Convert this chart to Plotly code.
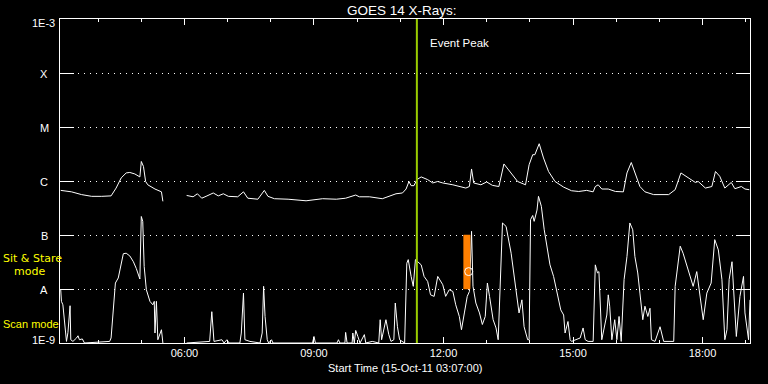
import numpy as np
import pandas as pd
import plotly.graph_objects as go

# ---------------- data ----------------
START = "2011-10-15 03:07:00"

# Long-wavelength channel (1-8 A), minutes after start, flux W/m^2 (None = data gap)
long_min = [1, 16, 30, 44, 58, 71, 78, 85, 92, 97, 104, 111, 113, 116, 119, 122, 132, 141, 143,
            160, 176, 185, 191, 197, 203, 213, 220, 227, 234, 247, 255, 261, 275, 284, 289, 298,
            317, 330, 342, 365, 384, 397, 411, 416, 430, 448, 467, 476, 481, 485, 488, 492, 496,
            502, 511, 518, 525, 532, 546, 564, 569, 572, 575, 585, 593, 601, 610, 617, 627, 636,
            647, 652, 657, 660, 666, 672, 679, 688, 700, 711, 721, 732, 741, 744, 748, 753, 762,
            772, 783, 788, 794, 799, 806, 813, 825, 846, 855, 863, 873, 883, 887, 897, 906, 911,
            917, 924, 933, 938, 947, 952, 958]
long_flux = [6.7e-7, 6.3e-7, 5.6e-7, 5.2e-7, 5.2e-7, 5.3e-7, 7.4e-7, 1.14e-6, 1.41e-6, 1.44e-6,
             1.35e-6, 1.19e-6, 2.3e-6, 1.86e-6, 9.8e-7, 8.5e-7, 7.1e-7, 6.3e-7, 4.2e-7,
             None, 5.4e-7, 5.1e-7, 5.8e-7, 4.8e-7, 5.2e-7, 6.0e-7, 5.3e-7, 5.8e-7, 5.2e-7, 5.1e-7,
             6.3e-7, 4.8e-7, 4.6e-7, 6.7e-7, 5.2e-7, 4.7e-7, 4.6e-7, 4.5e-7, 4.3e-7, 4.7e-7,
             4.6e-7, 4.8e-7, 5.5e-7, 5.1e-7, 5.1e-7, 4.7e-7, 5.8e-7, 6.0e-7, 7.1e-7, 9.8e-7,
             8.2e-7, 8.2e-7, 1.06e-6, 1.19e-6, 1.06e-6, 9.2e-7, 9.8e-7, 9.2e-7, 8.5e-7, 7.4e-7,
             7.9e-7, 1.67e-6, 9.2e-7, 8.5e-7, 9.6e-7, 8.3e-7, 7.9e-7, 2.07e-6, 1.41e-6, 9.8e-7,
             8.5e-7, 2.0e-6, 3.07e-6, 3.07e-6, 4.9e-6, 2.67e-6, 1.5e-6, 9.8e-7, 7.7e-7, 6.6e-7,
             6.4e-7, 6.7e-7, 6.3e-7, 7.9e-7, 8.5e-7, 7.1e-7, 7.1e-7, 6.4e-7, 6.3e-7, 1.41e-6,
             2.2e-6, 1.41e-6, 7.9e-7, 6.3e-7, 5.6e-7, 5.6e-7, 6.9e-7, 1.41e-6, 1.14e-6, 9.4e-7,
             9.8e-7, 7.4e-7, 7.9e-7, 1.5e-6, 1.22e-6, 7.4e-7, 9.4e-7, 7.2e-7, 7.9e-7, 7.1e-7,
             6.9e-7]

# Short-wavelength channel (0.5-4 A)
short_min = [1, 2, 4, 7, 9, 11, 14, 15, 18, 23, 25, 27, 31, 34, 69, 71, 74, 77, 81, 85, 88, 92, 97,
             102, 106, 111, 113, 115, 117, 120, 125, 129, 131, 132, 134, 136, 141, 143, 160, 176,
             208, 211, 214, 225, 228, 232, 235, 250, 252, 255, 257, 264, 278, 281, 283, 285, 288,
             290, 294, 296, 351, 353, 355, 385, 387, 389, 396, 397, 399, 406, 407, 409, 411, 414,
             417, 423, 425, 434, 443, 445, 447, 453, 457, 460, 464, 466, 469, 472, 476, 479, 482,
             484, 488, 491, 494, 497, 502, 506, 511, 515, 520, 525, 532, 536, 541, 546, 550, 555,
             558, 562, 566, 569, 572, 574, 578, 583, 587, 591, 594, 597, 602, 606, 609, 615, 620,
             627, 633, 638, 642, 645, 650, 652, 654, 657, 659, 663, 665, 669, 673, 677, 681, 686,
             690, 696, 700, 702, 706, 709, 711, 718, 723, 727, 730, 734, 741, 744, 747, 749, 753,
             760, 762, 764, 767, 771, 774, 777, 780, 784, 788, 792, 796, 799, 803, 806, 810, 813,
             817, 820, 822, 827, 834, 839, 853, 855, 862, 866, 873, 880, 885, 890, 894, 899, 905,
             910, 915, 920, 924, 927, 930, 934, 936, 940, 945, 950, 952, 957, 959]
short_flux = [9.7e-9, 5.9e-9, 5.1e-9, 2.0e-9, 1.07e-9, 1.55e-9, 4.9e-9, 1.15e-9, 1.07e-9, 1.24e-9,
              1.36e-9, 1.15e-9, 1.19e-9, 1.0e-9, 1.07e-9, 1.24e-9, 3.6e-9, 1.29e-8, 1.6e-8, 3.0e-8,
              4.5e-8, 4.6e-8, 4.1e-8, 3.2e-8, 2.4e-8, 1.53e-8, 2.2e-7, 1.79e-7, 2.6e-8, 9.7e-9,
              5.9e-9, 5.1e-9, 5.9e-9, 1.53e-9, 5.9e-9, 1.15e-9, 1.76e-9, 1.0e-9, None, 1.0e-9,
              1.07e-9, 3.8e-9, 1.07e-9, 1.15e-9, 1.0e-9, 1.15e-9, 1.0e-9, 1.0e-9, 1.53e-9, 8.4e-9,
              1.15e-9, 1.07e-9, 1.0e-9, 1.53e-9, 1.12e-8, 3.1e-9, 1.15e-9, 1.0e-9, 1.15e-9, 1.0e-9,
              1.0e-9, 1.32e-9, 1.0e-9, 1.0e-9, 1.15e-9, 1.0e-9, 1.0e-9, 1.57e-9, 1.0e-9, 1.0e-9,
              1.53e-9, 1.0e-9, 1.71e-9, 1.32e-9, 1.0e-9, 1.43e-9, 1.0e-9, 1.07e-9, 1.0e-9, 2.7e-9,
              1.15e-9, 2.7e-9, 1.43e-9, 1.07e-9, 1.15e-9, 5.5e-9, 2.0e-9, 1.15e-9, 1.07e-9, 1.0e-9,
              3.0e-8, 3.5e-8, 1.71e-8, 1.12e-8, 3.5e-8, 3.2e-8, 2.8e-8, 1.71e-8, 1.38e-8, 7.8e-9,
              7.3e-9, 1.71e-8, 1.2e-8, 7.3e-9, 9.7e-9, 9.0e-9, 5.1e-9, 3.1e-9, 1.76e-9, 3.6e-9,
              7.3e-9, 9.0e-9, 1.17e-7, 1.12e-8, 5.5e-9, 3.6e-9, 2.2e-9, 3.1e-9, 1.29e-8, 7.3e-9,
              2.7e-9, 1.9e-9, 1.15e-9, 1.67e-7, 1.44e-7, 4.6e-8, 1.29e-8, 3.6e-9, 6.3e-9, 2.0e-9,
              1.15e-9, 1.15e-9, 1.92e-7, 2.3e-7, 1.79e-7, 2.9e-7, 5.2e-7, 3.4e-7, 1.25e-7, 6.2e-8,
              2.8e-8, 1.71e-8, 9.7e-9, 4.1e-9, 3.3e-9, 1.53e-9, 2.5e-9, 1.15e-9, 1.07e-9, 1.19e-9,
              1.24e-9, 1.9e-9, 1.15e-9, 1.07e-9, 1.07e-9, 2.8e-8, 1.98e-8, 2.1e-8, 1.15e-9, 3.3e-9,
              7.8e-9, 4.8e-9, 1.15e-9, 2.7e-9, 1.15e-9, 3.1e-9, 1.07e-9, 1.49e-8, 4.0e-8, 1.67e-7,
              1.25e-7, 4.0e-8, 1.98e-8, 8.4e-9, 2.7e-9, 4.8e-9, 3.1e-9, 4.4e-9, 1.15e-9, 1.07e-9,
              2.0e-9, 1.07e-9, 1.07e-9, 1.12e-8, 6.2e-8, 4.6e-8, 2.3e-8, 1.12e-8, 2.1e-8, 7.3e-9,
              2.7e-9, 8.4e-9, 1.29e-8, 8.2e-8, 5.3e-8, 1.49e-8, 1.15e-9, 1.76e-9, 1.49e-8, 3.2e-8,
              1.29e-8, 1.32e-9, 7.3e-9, 1.71e-8, 3.6e-9, 1.15e-9, 6.3e-9]

# GOES class levels
level_flux = [1e-9, 1e-8, 1e-7, 1e-6, 1e-5, 1e-4, 1e-3]
level_text = ["1E-9", "A", "B", "C", "M", "X", "1E-3"]

END_MIN = 959
EVENT_PEAK_MIN = 496          # 11:23
OBS_START_MIN, OBS_END_MIN = 561, 570   # orange observation bar
OBS_FLUX = [1e-8, 1e-7]
MARK_MIN, MARK_FLUX = 568, 2.1e-8

# ---------------- figure ----------------
t0 = pd.Timestamp(START)
def tt(mins):
    return [t0 + pd.Timedelta(minutes=m) for m in mins]

lf = [np.nan if v is None else v for v in long_flux]
sf = [np.nan if v is None else v for v in short_flux]

FONT = "Liberation Sans, Arial, sans-serif"
FONT2 = "DejaVu Sans, sans-serif"
fig = go.Figure()
fig.add_trace(go.Scatter(x=tt(long_min), y=lf, mode="lines",
                         line=dict(color="white", width=1), connectgaps=False,
                         hoverinfo="skip", showlegend=False))
fig.add_trace(go.Scatter(x=tt(short_min), y=sf, mode="lines",
                         line=dict(color="white", width=1), connectgaps=False,
                         hoverinfo="skip", showlegend=False))
# orange observation bar
bx = tt([OBS_START_MIN, OBS_END_MIN, OBS_END_MIN, OBS_START_MIN, OBS_START_MIN])
by = [OBS_FLUX[0], OBS_FLUX[0], OBS_FLUX[1], OBS_FLUX[1], OBS_FLUX[0]]
fig.add_trace(go.Scatter(x=bx, y=by, mode="lines", fill="toself",
                         fillcolor="#ff7f00", line=dict(color="#ff7f00", width=0.5),
                         hoverinfo="skip", showlegend=False))
fig.add_trace(go.Scatter(x=tt([MARK_MIN]), y=[MARK_FLUX], mode="markers",
                         marker=dict(symbol="circle-open", size=8,
                                     line=dict(color="white", width=1), color="white"),
                         hoverinfo="skip", showlegend=False))

peak_t = tt([EVENT_PEAK_MIN])[0]
fig.add_shape(type="line", x0=peak_t, x1=peak_t, xref="x", y0=0, y1=1, yref="paper",
              line=dict(color="#9acd00", width=2), layer="above")

W, H = 768, 384
L, R, T, B = 60, 18, 19, 41
pw, ph = W - L - R, H - T - B

def px2paper_x(px):
    return (px - L) / pw

def px2paper_y(py):
    return 1 - (py - T) / ph

ann = []
ann.append(dict(text="GOES 14 X-Rays:", x=px2paper_x(402), y=px2paper_y(10),
                xref="paper", yref="paper", showarrow=False, xanchor="center",
                yanchor="middle", font=dict(size=13.5, color="white", family=FONT)))
ann.append(dict(text="Event Peak", x=tt([511])[0], y=px2paper_y(43),
                xref="x", yref="paper", showarrow=False, xanchor="left",
                yanchor="middle", font=dict(size=11.5, color="white", family=FONT)))
ann.append(dict(text="Start Time (15-Oct-11 03:07:00)", x=px2paper_x(405), y=px2paper_y(368),
                xref="paper", yref="paper", showarrow=False, xanchor="center",
                yanchor="middle", font=dict(size=11, color="white", family=FONT)))
for v, t in zip(level_flux, level_text):
    ly = np.log10(v)
    py = T + (-3 - ly) * ph / 6.0
    if t.startswith("1E"):
        py = py + 3.5 if t == "1E-3" else py - 3.5
        ann.append(dict(text=t, x=px2paper_x(57), y=px2paper_y(py), xref="paper", yref="paper",
                        showarrow=False, xanchor="right", yanchor="middle",
                        font=dict(size=11, color="white", family=FONT)))
    else:
        ann.append(dict(text=t, x=px2paper_x(44), y=px2paper_y(py + 0.5), xref="paper",
                        yref="paper", showarrow=False, xanchor="center", yanchor="middle",
                        font=dict(size=11, color="white", family=FONT)))
for txt, lx, cy, fam in [("Sit & Stare", 1, 258, FONT2), ("mode", 12, 271, FONT2),
                         ("Scan mode", 1, 324, FONT)]:
    ann.append(dict(text=txt, x=px2paper_x(lx), y=px2paper_y(cy), xref="paper", yref="paper",
                    showarrow=False, xanchor="left", yanchor="middle",
                    font=dict(size=11, color="#ffff00", family=fam)))

fig.update_layout(
    template="none",
    width=W, height=H, margin=dict(l=L, r=R, t=T, b=B, pad=0, autoexpand=False),
    paper_bgcolor="black", plot_bgcolor="black",
    showlegend=False, annotations=ann,
    font=dict(family=FONT, color="white", size=11),
    xaxis=dict(type="date", range=[t0, t0 + pd.Timedelta(minutes=END_MIN)],
               automargin=False,
               showline=True, linecolor="white", linewidth=1, mirror="allticks",
               ticks="inside", ticklen=6, tickcolor="white", tickwidth=1,
               tick0="2011-10-15 00:00:00", dtick=3 * 3600000, tickformat="%H:%M",
               tickfont=dict(size=11, color="white", family=FONT),
               minor=dict(ticks="inside", ticklen=3, tickcolor="white", tickwidth=1,
                          dtick=3600000, tick0="2011-10-15 00:00:00", showgrid=False),
               showgrid=False, zeroline=False, fixedrange=True),
    yaxis=dict(type="log", range=[-9, -3], tickvals=level_flux, ticktext=[""] * 7,
               showticklabels=False, automargin=False,
               showline=True, linecolor="white", linewidth=1, mirror="allticks",
               ticks="inside", ticklen=14, tickcolor="white", tickwidth=1,
               showgrid=True, gridcolor="white", gridwidth=1, griddash="1px,5px",
               zeroline=False, fixedrange=True),
)

fig.write_html("out.html", config={"staticPlot": True},
               post_script="document.body.style.margin='0px';document.body.style.overflow='hidden';")
